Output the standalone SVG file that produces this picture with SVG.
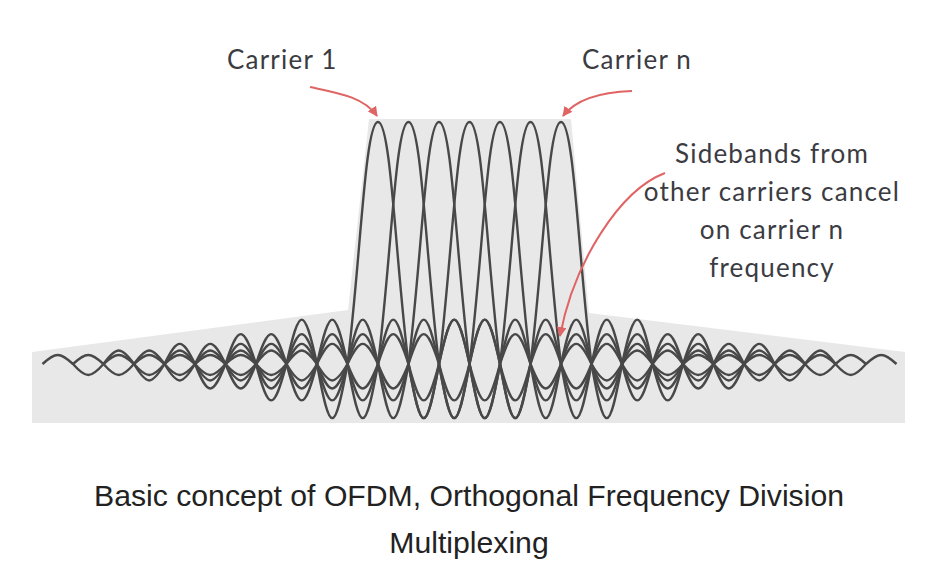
<svg xmlns="http://www.w3.org/2000/svg" xmlns:xlink="http://www.w3.org/1999/xlink" width="945" height="575" viewBox="0 0 945 575">
<style>
.lbl{font-family:"Lato","Noto Sans",sans-serif;font-size:26px;letter-spacing:1.2px;fill:#3b3b42}
.cap{font-family:"Liberation Sans",Arial,sans-serif;font-size:30.2px;fill:#222;text-anchor:middle}
.carrier{fill:none;stroke:#484848;stroke-width:2.4;stroke-linejoin:round}
.arrow{fill:none;stroke:#e06464;stroke-width:2}
</style>
<defs>
<marker id="ah" viewBox="0 0 10 10" refX="9" refY="5" markerWidth="5" markerHeight="5" orient="auto" markerUnits="strokeWidth">
<path d="M0,0 L10,5 L0,10 Z" fill="#e06464"/>
</marker>
<path id="sinc" class="carrier" d="M0,0
c12.94,-12.1 17.56,-12.1 30.5,0
c12.94,14.7 17.56,14.7 30.5,0
c12.94,-18 17.56,-18 30.5,0
c12.94,21.9 17.56,21.9 30.5,0
c12.94,-26.8 17.56,-26.8 30.5,0
c12.94,32.6 17.56,32.6 30.5,0
c12.94,-39.8 17.56,-39.8 30.5,0
c12.94,48.5 17.56,48.5 30.5,0
c12.94,-59.2 17.56,-59.2 30.5,0
c12.94,72.2 17.56,72.2 30.5,0
c13.12,-104.1 17.39,-242 30.5,-242
c13.12,0 17.39,137.9 30.5,242
c12.94,72.2 17.56,72.2 30.5,0
c12.94,-59.2 17.56,-59.2 30.5,0
c12.94,48.5 17.56,48.5 30.5,0
c12.94,-39.8 17.56,-39.8 30.5,0
c12.94,32.6 17.56,32.6 30.5,0
c12.94,-26.8 17.56,-26.8 30.5,0
c12.94,21.9 17.56,21.9 30.5,0
c12.94,-18 17.56,-18 30.5,0
c12.94,14.7 17.56,14.7 30.5,0
c12.94,-12.1 17.56,-12.1 30.5,0"/>
</defs>
<rect width="945" height="575" fill="#ffffff"/>
<polygon id="band" points="32,352 348,310 369,119 571,119 589,313 905,352 905,423 32,423" fill="#e8e8e8"/>
<g id="carriers">
<use id="carrier1" xlink:href="#sinc" x="42.5" y="364"/>
<use id="carrier2" xlink:href="#sinc" x="73" y="364"/>
<use id="carrier3" xlink:href="#sinc" x="103.5" y="364"/>
<use id="carrier4" xlink:href="#sinc" x="134" y="364"/>
<use id="carrier5" xlink:href="#sinc" x="164.5" y="364"/>
<use id="carrier6" xlink:href="#sinc" x="195" y="364"/>
<use id="carrierN" xlink:href="#sinc" x="225.5" y="364"/>
</g>
<g id="connectors">
<path class="arrow" d="M310,87 C338,93 364,97 377,116" marker-end="url(#ah)"/>
<path class="arrow" d="M632,91 C602,92 576,99 563,116" marker-end="url(#ah)"/>
<path class="arrow" d="M665,173 C620,190 574,262 560,336" marker-end="url(#ah)"/>
</g>
<g id="label-carrier1"><text class="lbl" x="227" y="69">Carrier 1</text></g>
<g id="label-carriern"><text class="lbl" x="582" y="69">Carrier n</text></g>
<g id="label-sidebands">
<text class="lbl" text-anchor="middle" x="772" y="163">Sidebands from</text>
<text class="lbl" text-anchor="middle" x="772" y="201">other carriers cancel</text>
<text class="lbl" text-anchor="middle" x="772" y="239">on carrier n</text>
<text class="lbl" text-anchor="middle" x="772" y="277">frequency</text>
</g>
<g id="caption">
<text class="cap" x="469" y="506">Basic concept of OFDM, Orthogonal Frequency Division</text>
<text class="cap" x="469" y="553">Multiplexing</text>
</g>
</svg>
